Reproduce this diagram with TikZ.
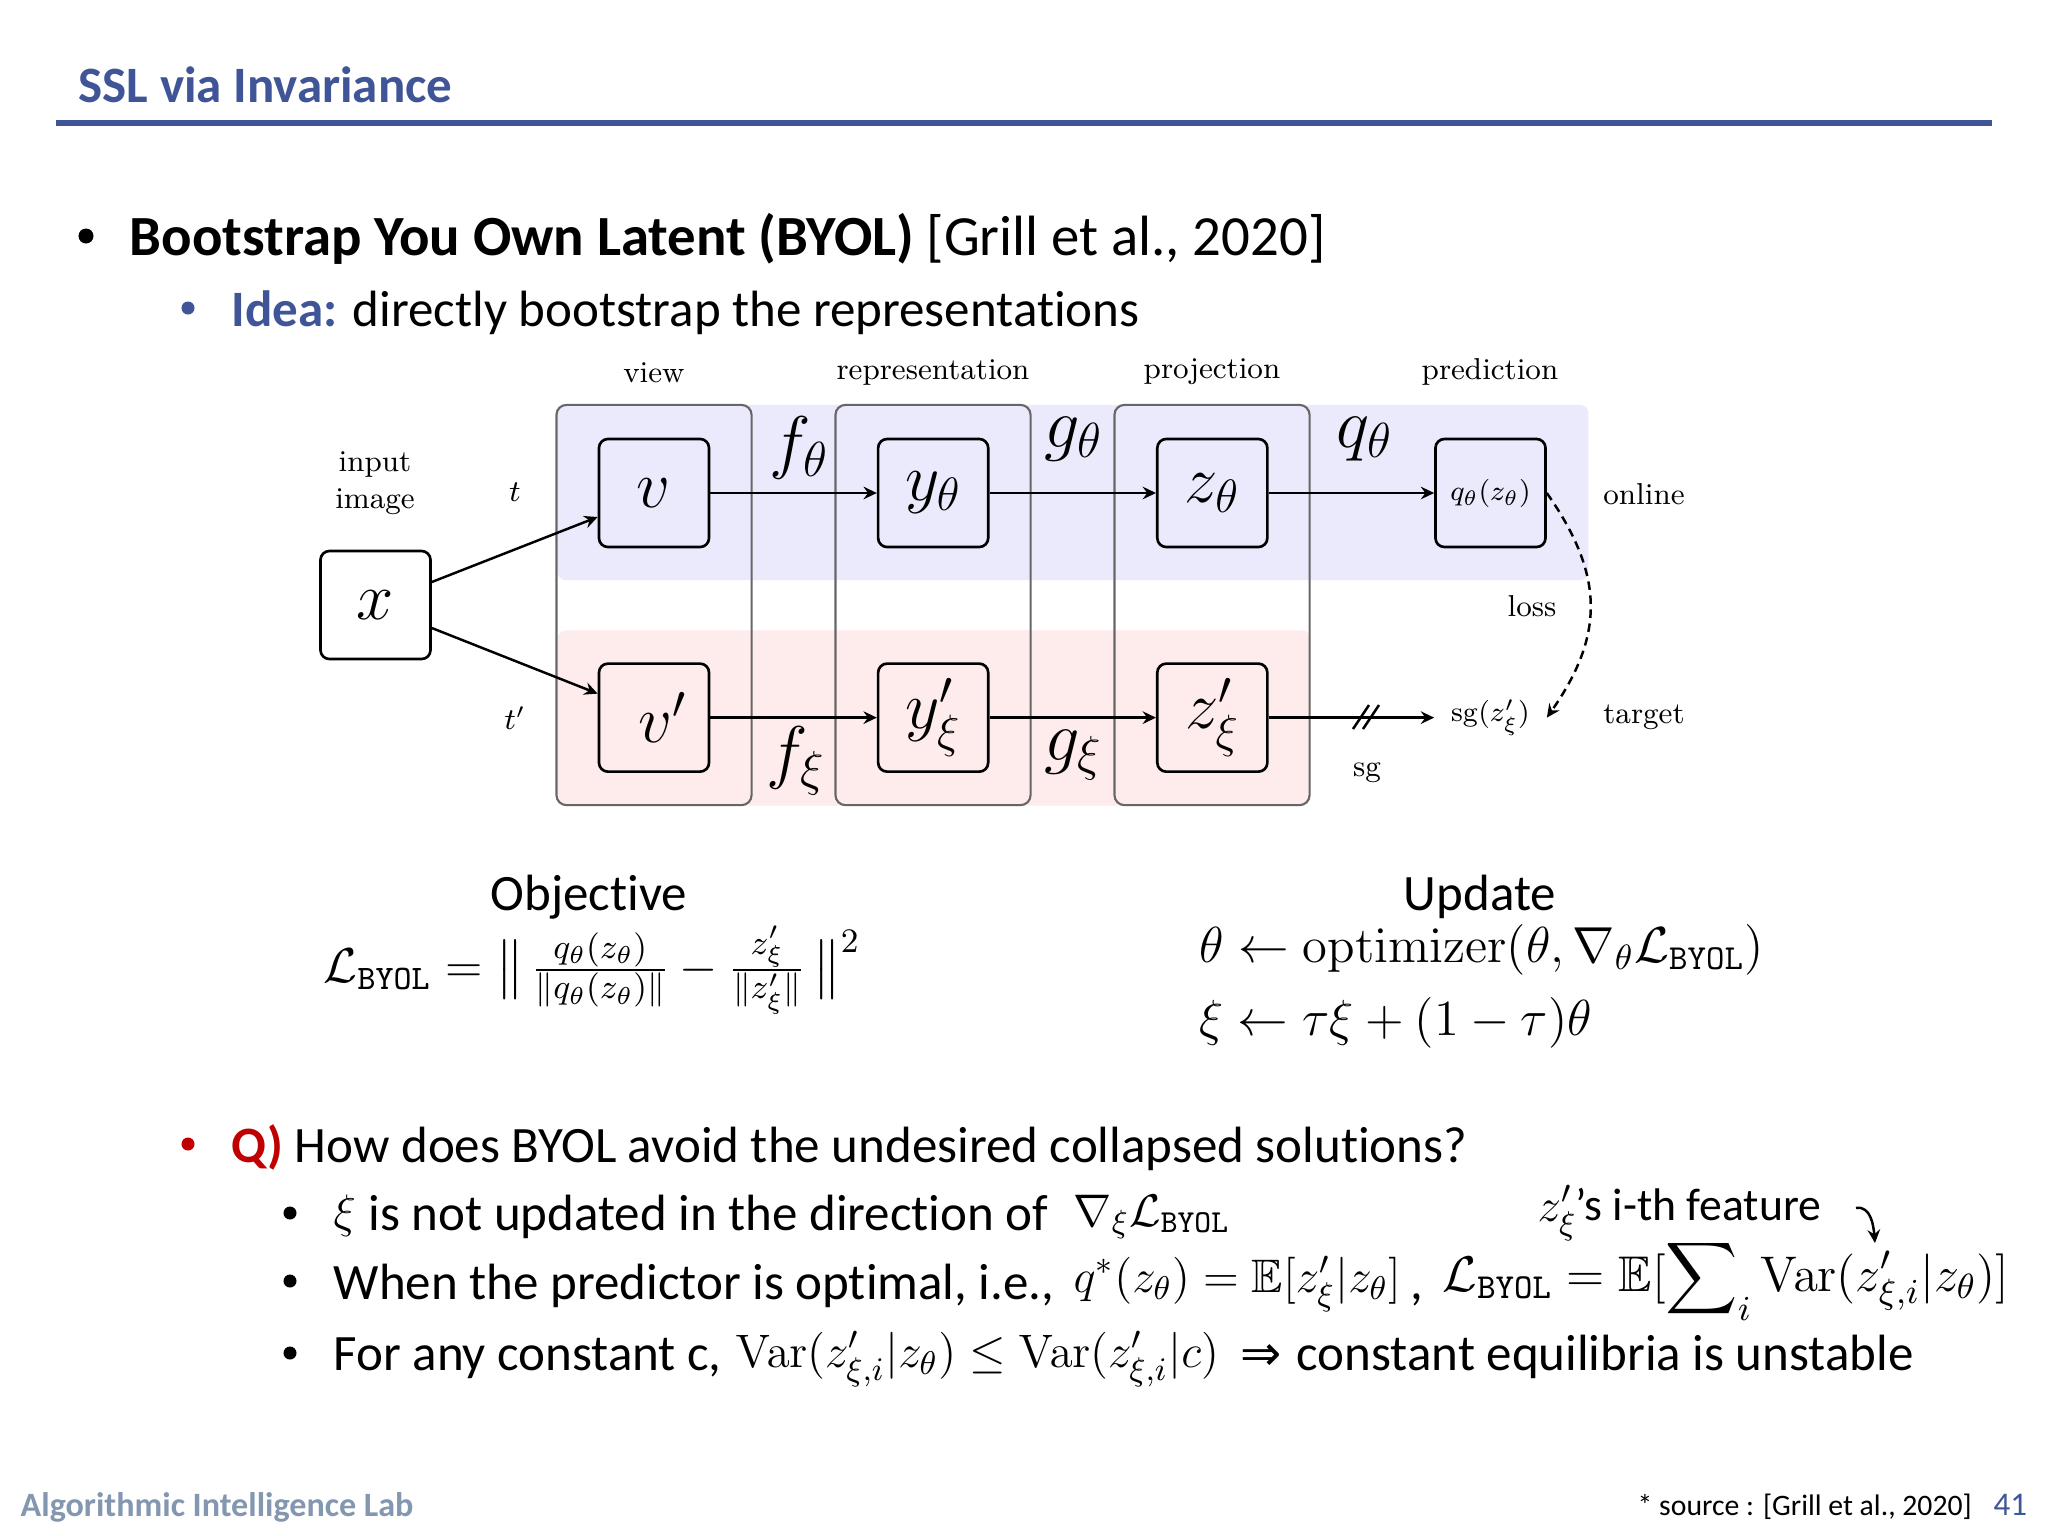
\documentclass[tikz,border=0pt]{standalone}
\usepackage{fix-cm}
\usepackage{amsmath,amssymb}
\usepackage[no-math]{fontspec}
\newfontfamily\slidefont[Ligatures=NoCommon]{Carlito}
\newfontfamily\symbolfont{DejaVu Sans}
\usetikzlibrary{arrows.meta}
\definecolor{slideblue}{HTML}{3F5597}
\definecolor{slidered}{HTML}{C00000}
\definecolor{footgray}{HTML}{8497B0}
\definecolor{onlineblue}{HTML}{EAEAFC}
\definecolor{targetred}{HTML}{FEEBEC}
\definecolor{framegray}{HTML}{666666}
\tikzstyle{band} = [rectangle, rounded corners=0.08cm, minimum height=1.75cm, inner sep=0pt]
\tikzstyle{column} = [rectangle, rounded corners=0.1cm, minimum width=1.95cm, minimum height=4cm, draw=framegray, line width=0.6pt]
\tikzstyle{block} = [rectangle, rounded corners=0.09cm, minimum width=1.1cm, minimum height=1.08cm, inner sep=0pt, draw=black, line width=0.75pt, font=\fontsize{19}{21}\selectfont]
\tikzstyle{smallblock} = [block, font=\fontsize{8}{10}\selectfont]
\tikzstyle{serif} = [font=\fontsize{8.6}{10}\selectfont, inner sep=0pt, align=center]
\tikzstyle{edgemath} = [font=\fontsize{20}{22}\selectfont, inner sep=0pt]
\tikzstyle{arrow} = [line width=0.7pt,->,>={Stealth[length=3.8pt,width=3.6pt,inset=1.3pt]}]
\tikzstyle{bigtext} = [anchor=base west, inner sep=0pt, font=\slidefont\fontsize{16.15}{19}\selectfont]
\tikzstyle{slidetext} = [anchor=base west, inner sep=0pt, font=\slidefont\fontsize{14.5}{17}\selectfont]
\tikzstyle{slidemath} = [anchor=base west, inner sep=0pt, font=\fontsize{13.35}{16}\selectfont]
\tikzstyle{dotmark} = [circle, fill=black, minimum size=0.13cm, inner sep=0pt]
\newcommand{\byolloss}{\mathcal{L}_{\mathtt{BYOL}}}
\begin{document}
\begin{tikzpicture}[x=0.01cm,y=-0.01cm]
  \useasboundingbox (0,0) rectangle (2048,1536);
  \fill[white] (0,0) rectangle (2048,1536);
  % header
  \node (title) [anchor=base west, inner sep=0pt, text=slideblue, font=\slidefont\bfseries\fontsize{14.5}{17}\selectfont] at (78,102) {SSL via Invariance};
  \coordinate (rule left) at (56,123);
  \coordinate (rule right) at (1992,123);
  \draw[slideblue, line width=1.5pt] (rule left) -- (rule right);
  % top bullets
  \node (dot1) [dotmark, minimum size=0.15cm] at (86,236) {};
  \node (byol) [bigtext] at (129,255) {\textbf{Bootstrap You Own Latent (BYOL)} [Grill et al., 2020]};
  \node (dot2) [dotmark, fill=slideblue] at (188,308) {};
  \node (idea) [slidetext] at (231,326) {\textcolor{slideblue}{\textbf{Idea:}} directly bootstrap the representations};
  % bands and columns
  \node (online band) [band, fill=onlineblue, minimum width=10.3cm] at (1073,492.5) {};
  \node (target band) [band, fill=targetred, minimum width=7.52cm] at (934,718) {};
  \node (view col) [column] at (654,605) {};
  \node (rep col) [column] at (933,605) {};
  \node (proj col) [column] at (1212,605) {};
  % blocks
  \node (x) [block, fill=white] at (375.5,605) {$x$};
  \node (v) [block] at (654,493) {$v$};
  \node (y) [block, right of=v, xshift=1.79cm] {$y_\theta$};
  \node (z) [block, right of=y, xshift=1.79cm] {$z_\theta$};
  \node (q) [smallblock, right of=z, xshift=1.78cm] {$q_\theta(z_\theta)$};
  \node (vp) [block, below of=v, yshift=-1.245cm] {$\;v'$};
  \node (yp) [block, right of=vp, xshift=1.79cm] {$y'_\xi$};
  \node (zp) [block, right of=yp, xshift=1.79cm] {$z'_\xi$};
  \node (sgz) [smallblock, draw=none, right of=zp, xshift=1.78cm] {$\mathrm{sg}(z'_\xi)$};
  % labels
  \node (view) [serif] at (654,373) {view};
  \node (representation) [serif] at (933,372) {representation};
  \node (projection) [serif] at (1212,372) {projection};
  \node (prediction) [serif] at (1490,372) {prediction};
  \node (input) [serif] at (375,483) {input\\[0.4pt]image};
  \node (t) [serif] at (515,492) {$t$};
  \node (tp) [serif] at (515,718) {$t'$};
  \node (online) [serif] at (1644,494) {online};
  \node (target) [serif] at (1644,717) {target};
  \node (loss) [serif] at (1532,606) {loss};
  \node (sg) [serif] at (1367,773) {sg};
  \node (ftheta) [edgemath] at (799,448) {$f_\theta$};
  \node (gtheta) [edgemath] at (1074,439) {$g_\theta$};
  \node (qtheta) [edgemath] at (1365,439) {$q_\theta$};
  \node (fxi) [edgemath] at (796,761) {$f_\xi$};
  \node (gxi) [edgemath] at (1074,755) {$g_\xi$};
  % connectors
  \draw[arrow]([yshift=0.23cm]x.east) -- ([yshift=-0.24cm]v.west);
  \draw[arrow]([yshift=-0.23cm]x.east) -- ([yshift=0.24cm]vp.west);
  \draw[arrow](v) -- (y);
  \draw[arrow](y) -- (z);
  \draw[arrow](z) -- (q);
  \draw[arrow](vp) -- (yp);
  \draw[arrow](yp) -- (zp);
  \draw[arrow](zp) -- (sgz);
  \draw[arrow, dash pattern=on 2.4pt off 1.6pt] (q.east) to[out=-55, in=55, looseness=1.15] (sgz.east);
  \coordinate (cut) at (1366,717);
  \draw[line width=0.7pt] (cut) ++(-13,12) -- ++(16,-24);
  \draw[line width=0.7pt] (cut) ++(-3,12) -- ++(16,-24);
  % formulas
  \node (objective) [slidetext, anchor=base] at (589,910) {Objective};
  \node (update) [slidetext, anchor=base] at (1480,910) {Update};
  \node (objective eq) [anchor=base west, inner sep=0pt, font=\fontsize{13.95}{17.5}\selectfont] at (323,982) {$\byolloss = \big\|\, \frac{q_\theta(z_\theta)}{\|q_\theta(z_\theta)\|} - \frac{z'_\xi}{\|z'_\xi\|} \,\big\|^2$};
  \node (update theta) [slidemath, font=\fontsize{14.4}{17}\selectfont] at (1199,962) {$\theta \leftarrow \mathrm{optimizer}(\theta, \nabla_\theta \byolloss)$};
  \node (update xi) [slidemath, font=\fontsize{14.4}{17}\selectfont] at (1199,1035) {$\xi \leftarrow \tau\xi + (1-\tau)\theta$};
  % question
  \node (dot3) [dotmark, fill=slidered] at (188,1144) {};
  \node (question) [slidetext] at (231,1162) {\textcolor{slidered}{\textbf{Q)}} How does BYOL avoid the undesired collapsed solutions?};
  \node (dot4) [dotmark] at (290,1213) {};
  \node (xi) [slidemath] at (333,1227) {$\xi$};
  \node (line one) [slidetext] at (368,1230) {is not updated in the direction of};
  \node (line one math) [slidemath, font=\fontsize{13}{16}\selectfont] at (1073,1226) {$\nabla_\xi \byolloss$};
  \node (feature) [slidemath] at (1537,1221) {$z'_\xi$};
  \node (feature text) [slidetext, font=\slidefont\fontsize{13}{16}\selectfont] at (1575,1220) {’s i-th feature};
  \coordinate (feature tail) at (1856,1208);
  \coordinate (feature head) at (1875,1243);
  \draw[arrow] (feature tail) to[out=10, in=95] (feature head);
  \node (dot5) [dotmark] at (290,1281) {};
  \node (line two) [slidetext] at (333,1299) {When the predictor is optimal, i.e.,};
  \node (line two math) [slidemath] at (1073,1292) {$q^*(z_\theta) = \mathbb{E}[z'_\xi|z_\theta]$};
  \node (comma) [slidetext] at (1410,1299) {,};
  \node (line two loss) [slidemath, font=\fontsize{14.25}{17}\selectfont] at (1442,1291) {$\byolloss = \mathbb{E}[\displaystyle\sum\nolimits_i \mathrm{Var}(z'_{\xi,i}|z_\theta)]$};
  \node (dot6) [dotmark] at (290,1353) {};
  \node (line three) [slidetext] at (333,1370) {For any constant c,};
  \node (line three math) [slidemath] at (735,1367) {$\mathrm{Var}(z'_{\xi,i}|z_\theta) \leq \mathrm{Var}(z'_{\xi,i}|c)$};
  \node (implies) [slidetext, font=\symbolfont\fontsize{14}{16}\selectfont] at (1240,1370) {⇒};
  \node (line three end) [slidetext] at (1296,1370) {constant equilibria is unstable};
  % footer
  \node (lab) [anchor=base west, inner sep=0pt, text=footgray, font=\slidefont\bfseries\fontsize{9.7}{11}\selectfont] at (20,1516) {Algorithmic Intelligence Lab};
  \node (source) [anchor=base west, inner sep=0pt, font=\slidefont\fontsize{8.45}{10}\selectfont] at (1637,1515) {* source : [Grill et al., 2020]};
  \node (page) [anchor=base west, inner sep=0pt, text=slideblue, font=\slidefont\fontsize{9.4}{11}\selectfont] at (1993,1515) {41};
\end{tikzpicture}
\end{document}
